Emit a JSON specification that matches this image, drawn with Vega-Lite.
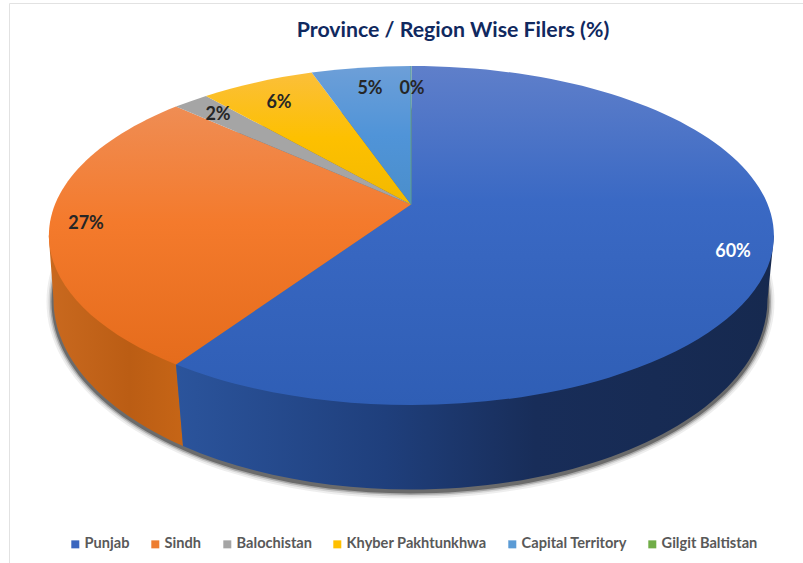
{"$schema":"https://vega.github.io/schema/vega-lite/v6.json","width":803,"height":513,"padding":{"left":0,"top":50,"right":0,"bottom":0},"autosize":{"type":"none"},"background":"white","config":{"view":{"stroke":null}},"title":{"text":"Province / Region Wise Filers (%)","font":"Lato","fontSize":21.3,"fontWeight":700,"color":"#10295f","anchor":"middle","frame":"group","dx":51.5,"offset":-40},"data":{"values":[{"province":"Punjab","share":0.60},{"province":"Sindh","share":0.27},{"province":"Balochistan","share":0.02},{"province":"Khyber Pakhtunkhwa","share":0.06},{"province":"Capital Territory","share":0.05},{"province":"Gilgit Baltistan","share":0.00}]},"layer":[
{"mark":{"type":"square","size":1,"opacity":1},"encoding":{"color":{"field":"province","type":"nominal","scale":{"domain":["Punjab","Sindh","Balochistan","Khyber Pakhtunkhwa","Capital Territory","Gilgit Baltistan"],"range":["#3a66bf","#ed7d31","#a5a5a5","#ffc000","#5b9bd5","#70ad47"]},"legend":{"title":null,"orient":"none","legendX":68,"legendY":487,"direction":"horizontal","columns":6,"symbolType":"square","symbolSize":64,"symbolOpacity":1,"labelFont":"Lato","labelFontSize":14.6,"labelFontWeight":700,"labelColor":"#595959","labelOffset":2,"columnPadding":18,"padding":0}}}},
{"transform":[{"filter":"datum.province==='Punjab'"}],"mark":{"type":"point","size":4,"filled":false,"opacity":1,"stroke":"#e2e2e2","strokeWidth":1,"shape":"M-392 256.5L-392 -303L401.5 -303"}},
{"transform":[{"filter":"datum.province==='Punjab'"}],"mark":{"type":"point","size":4,"filled":true,"opacity":0.08,"fill":"#222222","shape":"M-355 -5A364 197 0 1 1 373 -5A364 197 0 1 1 -355 -5Z"}},
{"transform":[{"filter":"datum.province==='Punjab'"}],"mark":{"type":"point","size":4,"filled":true,"opacity":0.12,"fill":"#222222","shape":"M-353 -5A362 195 0 1 1 371 -5A362 195 0 1 1 -353 -5Z"}},
{"transform":[{"filter":"datum.province==='Punjab'"}],"mark":{"type":"point","size":4,"filled":true,"opacity":0.25,"fill":"#222222","shape":"M-351.5 -5A360.5 193.5 0 1 1 369.5 -5A360.5 193.5 0 1 1 -351.5 -5Z"}},
{"transform":[{"filter":"datum.province==='Punjab'"}],"mark":{"type":"point","size":4,"filled":true,"opacity":0.45,"fill":"#222222","shape":"M-350 -5A359 192 0 1 1 368 -5A359 192 0 1 1 -350 -5Z"}},
{"transform":[{"filter":"datum.province==='Sindh'"}],"mark":{"type":"point","size":4,"filled":true,"opacity":1,"shape":"M-225.5 57.9L-218.5 139.5A357 190 0 0 1 -348 -7L-352.8 -71Z","fill":{"gradient":"linear","x1":0,"y1":0,"x2":1,"y2":0,"stops":[{"offset":0,"color":"#c9691f"},{"offset":0.6,"color":"#bb5d14"},{"offset":1,"color":"#c66516"}]}}},
{"transform":[{"filter":"datum.province==='Punjab'"}],"mark":{"type":"point","size":4,"filled":true,"opacity":1,"shape":"M372.5 -71L366 -7A357 190 0 0 1 -218.5 139.5L-225.5 57.9Z","fill":{"gradient":"linear","x1":0,"y1":0,"x2":1,"y2":0,"stops":[{"offset":0,"color":"#2b549c"},{"offset":0.35,"color":"#1f3f7c"},{"offset":0.6,"color":"#182d59"},{"offset":1,"color":"#16294f"}]}}},
{"transform":[{"filter":"datum.province==='Punjab'"}],"mark":{"type":"point","size":4,"filled":true,"opacity":1,"shape":"M9.5 -102L10 -240.5A362.5 169.5 0 1 1 -225.5 57.9Z","fill":{"gradient":"linear","x1":0,"y1":0,"x2":0,"y2":1,"stops":[{"offset":0,"color":"#5f7fca"},{"offset":0.4,"color":"#3a69c4"},{"offset":1,"color":"#2f5eb5"}]}}},
{"transform":[{"filter":"datum.province==='Sindh'"}],"mark":{"type":"point","size":4,"filled":true,"opacity":1,"shape":"M9.5 -102L-225.5 57.9A362.5 169.5 0 0 1 -225.5 -199.9Z","fill":{"gradient":"linear","x1":0,"y1":0,"x2":0,"y2":1,"stops":[{"offset":0,"color":"#ef8d54"},{"offset":0.45,"color":"#f47a2c"},{"offset":1,"color":"#e56c1c"}]}}},
{"transform":[{"filter":"datum.province==='Balochistan'"}],"mark":{"type":"point","size":4,"filled":true,"opacity":1,"fill":"#a5a5a5","shape":"M9.5 -102L-225.5 -199.9A362.5 169.5 0 0 1 -195.5 -210.6Z"}},
{"transform":[{"filter":"datum.province==='Khyber Pakhtunkhwa'"}],"mark":{"type":"point","size":4,"filled":true,"opacity":1,"shape":"M9.5 -102L-195.5 -210.6A362.5 169.5 0 0 1 -89.8 -233.9Z","fill":{"gradient":"linear","x1":0,"y1":0,"x2":0,"y2":1,"stops":[{"offset":0,"color":"#fbbf3a"},{"offset":0.5,"color":"#fdc000"},{"offset":1,"color":"#f3b900"}]}}},
{"transform":[{"filter":"datum.province==='Capital Territory'"}],"mark":{"type":"point","size":4,"filled":true,"opacity":1,"shape":"M9.5 -102L-89.8 -233.9A362.5 169.5 0 0 1 9.5 -240.5Z","fill":{"gradient":"linear","x1":0,"y1":0,"x2":0,"y2":1,"stops":[{"offset":0,"color":"#6d9fd8"},{"offset":0.5,"color":"#5094d8"},{"offset":1,"color":"#4a8ecb"}]}}},
{"transform":[{"filter":"datum.province==='Gilgit Baltistan'"}],"mark":{"type":"point","size":4,"filled":true,"opacity":1,"fill":"#5f9f8a","shape":"M9 -102L9 -240.5L10 -240.5L10 -102Z"}},
{"transform":[{"filter":"datum.province==='Punjab'"}],"mark":{"type":"text","font":"Lato","fontSize":18,"fontWeight":700,"baseline":"middle","align":"center","color":"#ffffff","dx":331.5,"dy":-55},"encoding":{"text":{"field":"share","type":"quantitative","format":".0%"}}},
{"transform":[{"filter":"datum.province==='Sindh'"}],"mark":{"type":"text","font":"Lato","fontSize":18,"fontWeight":700,"baseline":"middle","align":"center","color":"#262626","dx":-315.5,"dy":-83},"encoding":{"text":{"field":"share","type":"quantitative","format":".0%"}}},
{"transform":[{"filter":"datum.province==='Balochistan'"}],"mark":{"type":"text","font":"Lato","fontSize":18,"fontWeight":700,"baseline":"middle","align":"center","color":"#262626","dx":-183.5,"dy":-191.5},"encoding":{"text":{"field":"share","type":"quantitative","format":".0%"}}},
{"transform":[{"filter":"datum.province==='Khyber Pakhtunkhwa'"}],"mark":{"type":"text","font":"Lato","fontSize":18,"fontWeight":700,"baseline":"middle","align":"center","color":"#262626","dx":-122.5,"dy":-204},"encoding":{"text":{"field":"share","type":"quantitative","format":".0%"}}},
{"transform":[{"filter":"datum.province==='Capital Territory'"}],"mark":{"type":"text","font":"Lato","fontSize":18,"fontWeight":700,"baseline":"middle","align":"center","color":"#262626","dx":-31.5,"dy":-218},"encoding":{"text":{"field":"share","type":"quantitative","format":".0%"}}},
{"transform":[{"filter":"datum.province==='Gilgit Baltistan'"}],"mark":{"type":"text","font":"Lato","fontSize":18,"fontWeight":700,"baseline":"middle","align":"center","color":"#262626","dx":10.5,"dy":-218},"encoding":{"text":{"field":"share","type":"quantitative","format":".0%"}}}
]}
